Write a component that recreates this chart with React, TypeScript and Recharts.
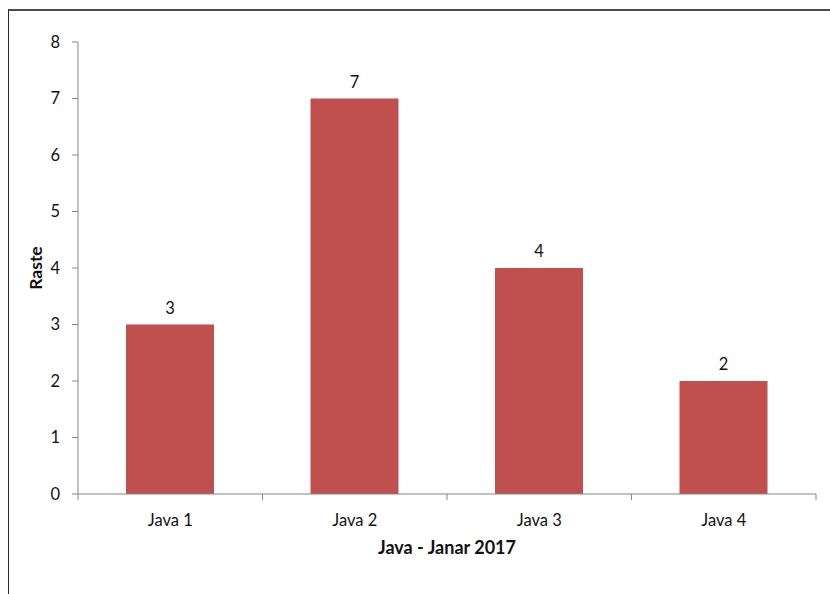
import React from "react";
import { BarChart, Bar, XAxis, YAxis, LabelList, Label } from "recharts";

const categories = ["Java 1", "Java 2", "Java 3", "Java 4"];
const cases = [3, 7, 4, 2];
const yTicks = [0, 1, 2, 3, 4, 5, 6, 7, 8];

const data = categories.map((name, i) => ({ name, raste: cases[i] }));

const W = 830;
const H = 594;
const AXIS = "#868686";
const TEXT = "#111111";
const FONT = "Lato, 'Open Sans', sans-serif";
const X_TICK_SIZE = 6;
const X_TICK_MARGIN = 8;

// Category label at band centre, with tick marks on the band boundaries
const CategoryTick = (props: any) => {
  const { x, y, payload, index, visibleTicksCount, width } = props;
  const half =
    payload && payload.offset ? payload.offset : (width || 738) / (visibleTicksCount || 4) / 2;
  const axisY = y - X_TICK_SIZE - X_TICK_MARGIN;
  const last = index === (visibleTicksCount || categories.length) - 1;
  return (
    <g>
      <line x1={x - half} x2={x - half} y1={axisY} y2={axisY + X_TICK_SIZE} stroke={AXIS} />
      {last && (
        <line x1={x + half} x2={x + half} y1={axisY} y2={axisY + X_TICK_SIZE} stroke={AXIS} />
      )}
      <text
        x={x}
        y={axisY + 26}
        textAnchor="middle"
        dominantBaseline="central"
        fontFamily={FONT}
        fontSize={16.5}
        fill={TEXT}
      >
        {payload.value}
      </text>
    </g>
  );
};

const YTitle = (props: any) => {
  const vb = props.viewBox || { x: 0, y: 42, width: 78, height: 452 };
  const cx = vb.x + 35;
  const cy = vb.y + vb.height / 2;
  return (
    <text
      x={cx}
      y={cy}
      transform={`rotate(-90 ${cx} ${cy})`}
      textAnchor="middle"
      dominantBaseline="central"
      fontFamily={FONT}
      fontWeight="bold"
      fontSize={17.5}
      fill={TEXT}
    >
      Raste
    </text>
  );
};

const XTitle = (props: any) => {
  const vb = props.viewBox || { x: 78, y: 494, width: 738, height: 100 };
  return (
    <text
      x={vb.x + vb.width / 2}
      y={vb.y + 53}
      textAnchor="middle"
      dominantBaseline="central"
      fontFamily={FONT}
      fontWeight="bold"
      fontSize={18}
      fill={TEXT}
    >
      Java - Janar 2017
    </text>
  );
};

export default function App() {
  return (
    <div
      style={{
        position: "absolute",
        left: 0,
        top: 0,
        width: W,
        height: H,
        background: "#fff",
        overflow: "hidden",
      }}
    >
      <div
        style={{
          position: "absolute",
          left: 8,
          top: 9,
          width: W,
          height: H,
          borderTop: "2px solid #4a4a4a",
          borderLeft: "1.5px solid #2a2a2a",
          pointerEvents: "none",
        }}
      />
      <BarChart
        width={W}
        height={H}
        data={data}
        margin={{ top: 42, right: 14, left: 0, bottom: 0 }}
        style={{ position: "absolute", left: 0, top: 0 }}
      >
        <XAxis
          dataKey="name"
          height={100}
          stroke={AXIS}
          tickLine={false}
          tickSize={X_TICK_SIZE}
          tickMargin={X_TICK_MARGIN}
          tick={<CategoryTick />}
          interval={0}
        >
          <Label content={<XTitle />} />
        </XAxis>
        <YAxis
          width={78}
          domain={[0, 8]}
          ticks={yTicks}
          interval={0}
          stroke={AXIS}
          tickSize={6}
          tickMargin={12}
          tick={{ fill: TEXT, fontFamily: FONT, fontSize: 16.5 }}
        >
          <Label content={<YTitle />} />
        </YAxis>
        <Bar dataKey="raste" fill="#C0504D" barSize={88} isAnimationActive={false}>
          <LabelList
            dataKey="raste"
            position="top"
            offset={11}
            fill={TEXT}
            fontFamily={FONT}
            fontSize={16.5}
          />
        </Bar>
      </BarChart>
    </div>
  );
}
